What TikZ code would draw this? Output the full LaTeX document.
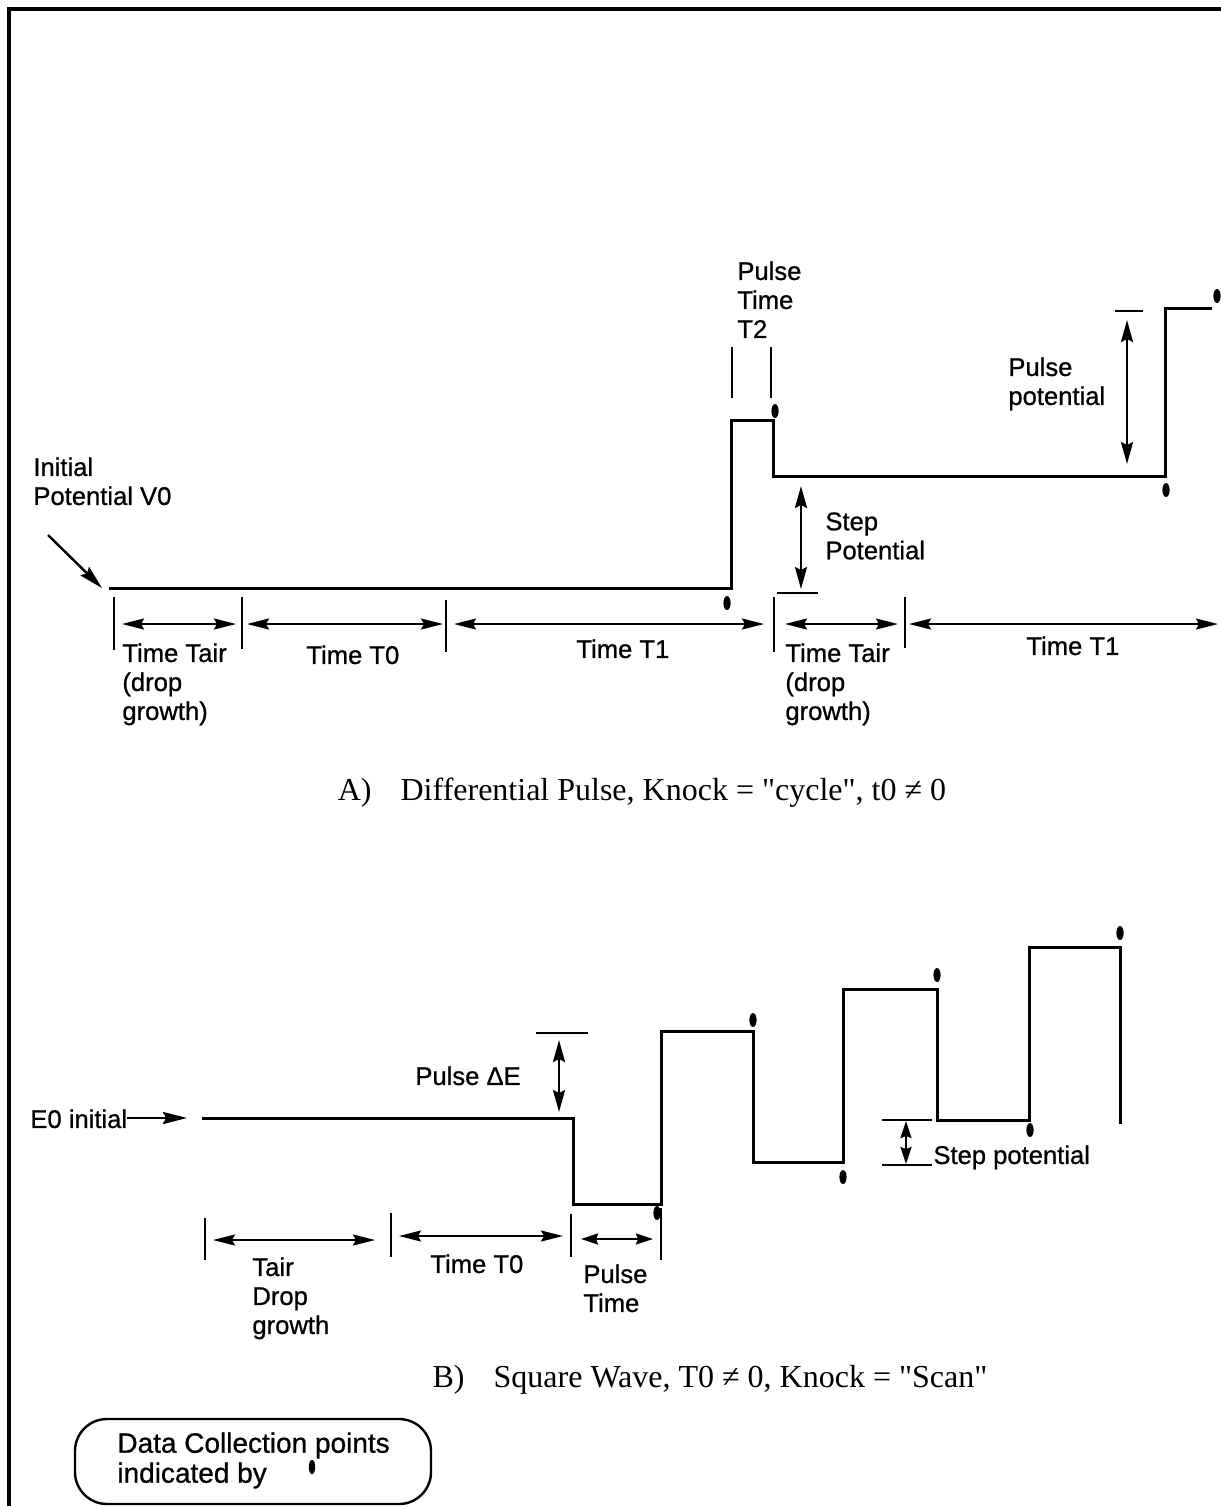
\documentclass[tikz,border=0pt]{standalone}
\usepackage{fontspec}
\setmainfont{Liberation Serif}
\newfontfamily\lab[FakeBold=0.8]{Liberation Sans}
\usetikzlibrary{arrows.meta}
\tikzset{
  hd/.tip={Stealth[length=11pt,width=5.5pt,inset=1.5pt]},
  vd/.tip={Stealth[length=11pt,width=6pt,inset=1.5pt]},
  sd/.tip={Stealth[length=8.5pt,width=5.5pt,inset=1pt]},
  pd/.tip={Stealth[length=12pt,width=6pt,inset=1.5pt]}
}
\begin{document}
\begin{tikzpicture}[x=0.5pt,y=-0.5pt,
  wave/.style={line width=1.5pt, line join=miter},
  frameline/.style={line width=1.6pt},
  tickline/.style={line width=1.1pt},
  dimh/.style={line width=1.1pt, {hd}-{hd}},
  dimv/.style={line width=1.1pt, {vd}-{vd}},
  dims/.style={line width=1.1pt, {sd}-{sd}},
  ptr/.style={line width=1.2pt, -{pd}},
  lbl/.style={font=\lab\fontsize{12.8}{14.5}\selectfont, inner sep=0pt, anchor=north west, align=left},
  leg/.style={font=\lab\fontsize{14}{15}\selectfont, inner sep=0pt, anchor=north west, align=left},
  captext/.style={font=\fontsize{16}{18}\selectfont, inner sep=0pt},
  ddot/.style={fill=black}
]
\useasboundingbox (0,0) rectangle (1221,1506);
% frame
\draw[frameline] (1221,9) -- (9,9) -- (9,1506);

% ---------------- Panel A ----------------
\coordinate (a0) at (109,588);
\coordinate (a1) at (731,588);
\coordinate (a2) at (731,420);
\coordinate (a3) at (773,420);
\coordinate (a4) at (773,476);
\coordinate (a5) at (1165,476);
\coordinate (a6) at (1165,308);
\coordinate (a7) at (1212,308);
\draw[wave] (a0)--(a1)--(a2)--(a3)--(a4)--(a5)--(a6)--(a7);

\foreach \p in {(727,603),(775,411),(1166,490),(1217,296)}
  \fill[ddot] \p ellipse [x radius=1.8pt, y radius=3.5pt];

\node[lbl] (v0) at (33,457) {Initial\\Potential V0};
\coordinate (v0tail) at (48,535);
\coordinate (v0tip) at (102,588);
\draw[ptr] (v0tail) -- (v0tip);

\node[lbl] (t2) at (737,261) {Pulse\\Time\\T2};
\draw[tickline] (732,347) -- (732,398);
\draw[tickline] (771,347) -- (771,398);

\coordinate (pp1) at (1127,320);
\coordinate (pp2) at (1127,464);
\draw[tickline] (1115,311) -- (1143,311);
\draw[dimv] (pp1) -- (pp2);
\node[lbl] (ppl) at (1008,357) {Pulse\\potential};

\coordinate (sp1) at (801,486);
\coordinate (sp2) at (801,589);
\draw[tickline] (777,593) -- (818,593);
\draw[dimv] (sp1) -- (sp2);
\node[lbl] (spl) at (825,512) {Step\\Potential};

% timeline A
\draw[tickline] (114,597) -- (114,650);
\draw[tickline] (242,597) -- (242,649);
\draw[tickline] (446,600) -- (446,652);
\draw[tickline] (774,597) -- (774,652);
\draw[tickline] (905,597) -- (905,648);
\coordinate (ta1) at (122,624);  \coordinate (ta2) at (236,624);
\coordinate (ta3) at (247,624);  \coordinate (ta4) at (443,624);
\coordinate (ta5) at (454,624);  \coordinate (ta6) at (764,624);
\coordinate (ta7) at (785,624);  \coordinate (ta8) at (898,624);
\coordinate (ta9) at (909,624);  \coordinate (ta10) at (1218,624);
\draw[dimh] (ta1) -- (ta2);
\draw[dimh] (ta3) -- (ta4);
\draw[dimh] (ta5) -- (ta6);
\draw[dimh] (ta7) -- (ta8);
\draw[dimh] (ta9) -- (ta10);
\node[lbl] (la1) at (122,643) {Time Tair\\(drop\\growth)};
\node[lbl] (la2) at (306,645) {Time T0};
\node[lbl] (la3) at (576,639) {Time T1};
\node[lbl] (la4) at (785,643) {Time Tair\\(drop\\growth)};
\node[lbl] (la5) at (1026,636) {Time T1};

\node[captext] (capA) at (642,793) {A)\hspace{14.5pt}Differential Pulse, Knock = \textquotedbl cycle\textquotedbl, t0 ≠ 0};

% ---------------- Panel B ----------------
\coordinate (b0) at (202,1118);
\coordinate (b1) at (573,1118);
\coordinate (b2) at (573,1204);
\coordinate (b3) at (661,1204);
\coordinate (b4) at (661,1031);
\coordinate (b5) at (753,1031);
\coordinate (b6) at (753,1162);
\coordinate (b7) at (843,1162);
\coordinate (b8) at (843,989);
\coordinate (b9) at (937,989);
\coordinate (b10) at (937,1120);
\coordinate (b11) at (1029,1120);
\coordinate (b12) at (1029,947);
\coordinate (b13) at (1120,947);
\coordinate (b14) at (1120,1124);
\draw[wave] (b0)--(b1)--(b2)--(b3)--(b4)--(b5)--(b6)--(b7)--(b8)--(b9)--(b10)--(b11)--(b12)--(b13)--(b14);

\foreach \p in {(657,1213),(753,1020),(843,1177),(937,975),(1030,1130),(1120,933)}
  \fill[ddot] \p ellipse [x radius=1.8pt, y radius=3.5pt];

\node[lbl] (e0) at (30,1109) {E0 initial};
\coordinate (e0tail) at (127,1118);
\coordinate (e0tip) at (187,1118);
\draw[ptr] (e0tail) -- (e0tip);

\coordinate (de1) at (559,1040);
\coordinate (de2) at (559,1112);
\draw[tickline] (536,1033) -- (588,1033);
\draw[dimv] (de1) -- (de2);
\node[lbl] (del) at (415,1066) {Pulse ΔE};

\coordinate (sb1) at (906,1121);
\coordinate (sb2) at (906,1164);
\draw[tickline] (882,1120) -- (932,1120);
\draw[tickline] (882,1165) -- (932,1165);
\draw[dims] (sb1) -- (sb2);
\node[lbl] (sbl) at (933,1145) {Step potential};

% timeline B
\draw[tickline] (205,1218) -- (205,1260);
\draw[tickline] (391,1213) -- (391,1257);
\draw[tickline] (571,1214) -- (571,1257);
\draw[tickline] (661,1208) -- (661,1260);
\coordinate (tb1) at (213,1240); \coordinate (tb2) at (375,1240);
\coordinate (tb3) at (399,1236); \coordinate (tb4) at (563,1236);
\coordinate (tb5) at (581,1239); \coordinate (tb6) at (653,1239);
\draw[dimh] (tb1) -- (tb2);
\draw[dimh] (tb3) -- (tb4);
\draw[dims] (tb5) -- (tb6);
\node[lbl] (lb1) at (252,1257) {Tair\\Drop\\growth};
\node[lbl] (lb2) at (430,1254) {Time T0};
\node[lbl] (lb3) at (583,1264) {Pulse\\Time};

\node[captext] (capB) at (710,1380) {B)\hspace{14.5pt}Square Wave, T0 ≠ 0, Knock = \textquotedbl Scan\textquotedbl};

% legend
\draw[line width=1.2pt, rounded corners=16pt] (75,1419) rectangle (431,1504);
\node[leg] (legt) at (117,1432) {Data Collection points\\indicated by};
\fill[ddot] (312,1467) ellipse [x radius=1.6pt, y radius=3.6pt];
\end{tikzpicture}
\end{document}
